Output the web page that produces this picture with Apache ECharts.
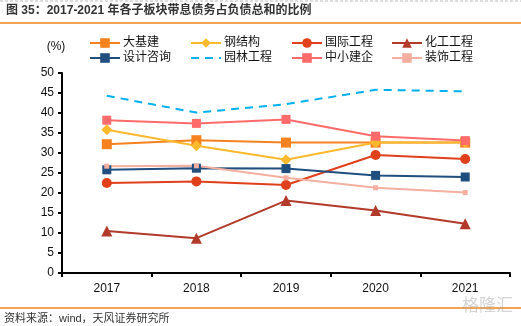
<!DOCTYPE html>
<html><head><meta charset="utf-8">
<script src="https://cdn.jsdelivr.net/npm/echarts@6/dist/echarts.min.js"></script>
<style>html,body{margin:0;padding:0;background:#fff}#c{width:521px;height:326px}</style>
</head><body><div id="c"></div>
<script>
var years = ['2017','2018','2019','2020','2021'];
var names = ['大基建','钢结构','国际工程','化工工程','设计咨询','园林工程','中小建企','装饰工程'];
var dajijian = [32.2, 33.2, 32.6, 32.6, 32.6];
var gangjiegou = [35.8, 31.8, 28.3, 32.6, 32.6];
var guojigongcheng = [22.5, 22.9, 22.0, 29.5, 28.5];
var huagonggongcheng = [10.5, 8.7, 18.1, 15.6, 12.3];
var shejizixun = [25.8, 26.2, 26.1, 24.4, 24.0];
var yuanlingongcheng = [44.3, 40.1, 42.2, 45.8, 45.4];
var zhongxiaojianqi = [38.2, 37.4, 38.4, 34.2, 33.1];
var zhuangshigongcheng = [26.7, 26.8, 23.8, 21.3, 20.1];
var yTicks = [0,5,10,15,20,25,30,35,40,45,50];

var font = 'Liberation Sans, Arial, Noto Sans CJK SC, sans-serif';
function ser(name, data, color, symbol, size, dashed) {
  return {
    name: name, type: 'line', data: data,
    symbol: symbol, symbolSize: size, showSymbol: symbol !== 'none',
    itemStyle: {color: color},
    lineStyle: {color: color, width: 2, type: dashed ? [8, 6] : 'solid'},
    emphasis: {disabled: true}
  };
}
var series = [
  ser(names[0], dajijian, '#F5821F', 'rect', 10),
  ser(names[1], gangjiegou, '#FBBA2E', 'diamond', 11),
  ser(names[2], guojigongcheng, '#E0401A', 'circle', 10),
  ser(names[3], huagonggongcheng, '#B23A2A', 'triangle', 11),
  ser(names[4], shejizixun, '#1F4E7F', 'rect', 9),
  ser(names[5], yuanlingongcheng, '#00B0F0', 'none', 0, true),
  ser(names[6], zhongxiaojianqi, '#FF6B6B', 'rect', 9),
  ser(names[7], zhuangshigongcheng, '#F4AFA0', 'rect', 5)
];
function leg(left, items) {
  return {
    left: left, top: 32, orient: 'vertical', itemGap: 3, itemWidth: 30, itemHeight: 12,
    data: items, selectedMode: false,
    textStyle: {fontSize: 12, color: '#111', fontFamily: font, padding: [0,0,0,-2]}
  };
}
var chart = echarts.init(document.getElementById('c'), null, {renderer: 'canvas'});
chart.setOption({
  animation: false,
  backgroundColor: '#fff',
  grid: {left: 62, right: 11, top: 73, bottom: 53},
  legend: [
    leg(84, [names[0], names[4]]),
    leg(185, [names[1], {name: names[5], itemStyle: {opacity: 0}}]),
    leg(286, [names[2], names[6]]),
    leg(386, [names[3], names[7]])
  ],
  xAxis: {
    type: 'category', data: years, boundaryGap: true,
    axisLine: {lineStyle: {color: '#000', width: 2}},
    axisTick: {show: true, length: 4, lineStyle: {color: '#000', width: 2}},
    axisLabel: {fontSize: 12, color: '#111', fontFamily: font, margin: 10}
  },
  yAxis: {
    type: 'value', min: yTicks[0], max: yTicks[yTicks.length-1], interval: 5,
    axisLine: {show: true, lineStyle: {color: '#000', width: 2}},
    axisTick: {show: true, length: 4, inside: false, lineStyle: {color: '#000', width: 2}},
    splitLine: {show: false},
    axisLabel: {fontSize: 12, color: '#111', fontFamily: font, margin: 8}
  },
  graphic: [
    {type: 'line', shape: {x1: 0, y1: 1, x2: 521, y2: 1}, style: {stroke: '#bbb', lineWidth: 1, lineDash: [3, 2]}},
    {type: 'text', left: 6, top: 5, style: {text: '图 35：2017-2021 年各子板块带息债务占负债总和的比例', fontSize: 12, fontWeight: 'bold', fill: '#333', fontFamily: font}},
    {type: 'line', shape: {x1: 0, y1: 23, x2: 521, y2: 23}, style: {stroke: '#F08519', lineWidth: 1.5}},
    {type: 'text', x: 56, y: 47, style: {text: '(%)', fontSize: 12, fill: '#111', fontFamily: font, align: 'center', verticalAlign: 'middle'}},
    {type: 'line', shape: {x1: 0, y1: 308, x2: 521, y2: 308}, style: {stroke: '#F08519', lineWidth: 1.5}},
    {type: 'text', left: 4, top: 313, style: {text: '资料来源：wind，天风证券研究所', fontSize: 11, fill: '#333', fontFamily: font}},
    {type: 'text', right: 8, top: 298, style: {text: '格隆汇', fontSize: 17, fill: 'rgba(160,160,160,0.45)', fontFamily: font}}
  ],
  series: series
});
</script></body></html>
